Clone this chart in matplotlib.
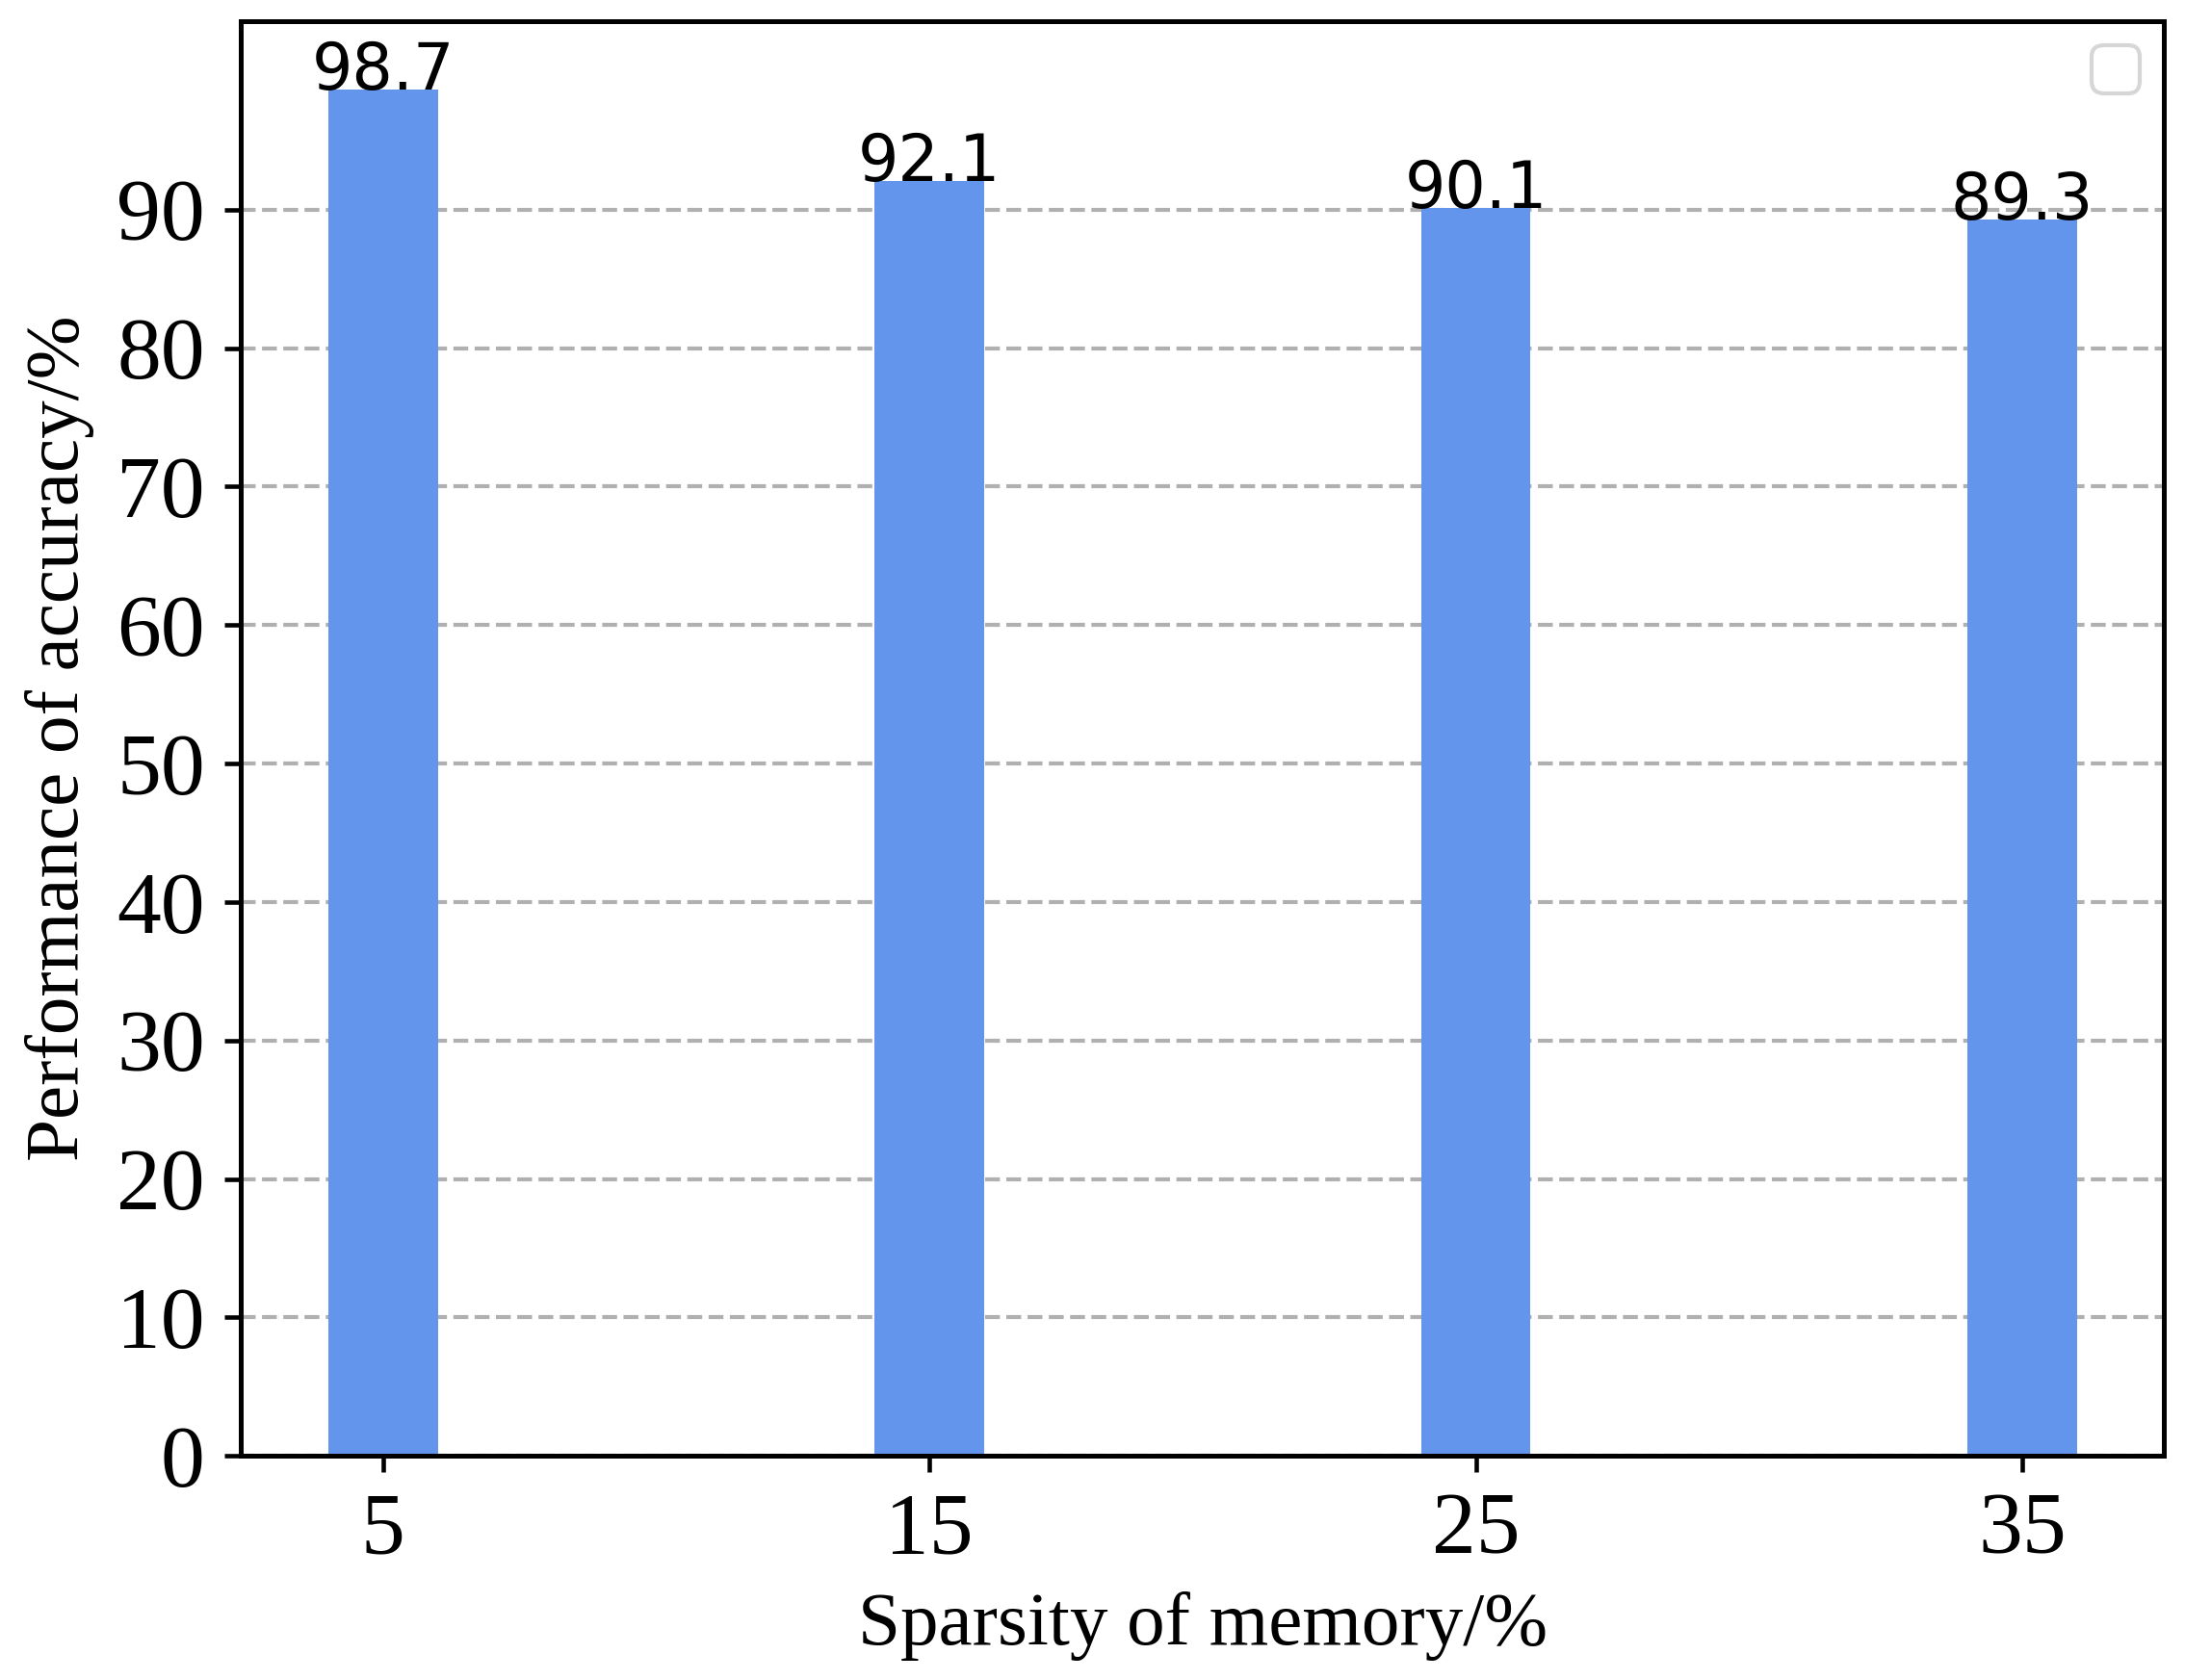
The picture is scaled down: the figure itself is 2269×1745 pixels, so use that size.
import matplotlib
matplotlib.use("Agg")
import matplotlib.pyplot as plt

sparsity = [5, 15, 25, 35]
accuracy = [98.7, 92.1, 90.1, 89.3]
yticks = [0, 10, 20, 30, 40, 50, 60, 70, 80, 90]

plt.rcParams['font.family'] = ['Liberation Serif', 'DejaVu Serif']

fig = plt.figure(figsize=(2269/300, 1745/300), dpi=300)
ax = fig.add_axes([0.1103, 0.1334, 0.9905 - 0.1103, 0.9876 - 0.1334])

bars = ax.bar(sparsity, accuracy, width=2, color='#6495ED', zorder=2)
ax.yaxis.grid(True, linestyle='--', color='#b0b0b0', linewidth=1.0, zorder=1)
ax.set_axisbelow(True)

for x, v in zip(sparsity, accuracy):
    ax.text(x, v, f"{v}", ha='center', va='baseline', fontsize=16,
            family='DejaVu Sans', zorder=3)

for s in ax.spines.values():
    s.set_linewidth(1.2)

ax.set_xticks(sparsity)
ax.set_xticklabels([str(s) for s in sparsity])
ax.set_yticks(yticks)
ax.tick_params(axis='both', labelsize=22, width=1.1, length=4, pad=5)
ax.set_xlabel('Sparsity of memory/%', fontsize=19, labelpad=5)
ax.set_ylabel('Performance of accuracy/%', fontsize=19, labelpad=5.5)

ax.legend(loc='upper right', fontsize=15, borderaxespad=0.4)

fig.savefig('out.png', dpi=300)
